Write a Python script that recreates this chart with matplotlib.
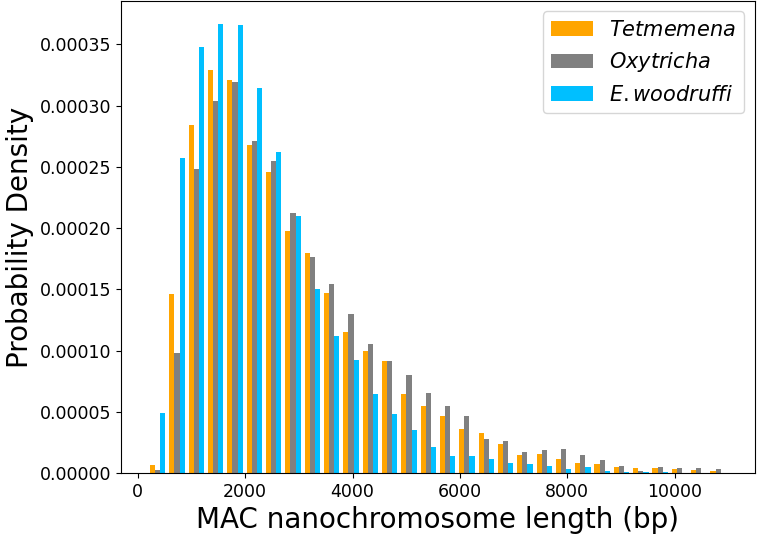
"""
MAC nanochromosome length distributions
"""

import numpy as np
import matplotlib
matplotlib.use("Agg")
import matplotlib.pyplot as plt

# bins: 30 equal bins
bin_lo = 190
bin_hi = 10990
n_bins = 30

# probability density per bin
tetmemena = np.array([
    0.65, 14.6, 28.4, 32.9, 32.1, 26.8, 24.6, 19.8, 18.0, 14.7,
    11.5, 9.96, 9.14, 6.47, 5.47, 4.67, 3.57, 3.24, 2.37, 1.49,
    1.55, 1.17, 0.82, 0.76, 0.46, 0.41, 0.41, 0.30, 0.22, 0.16,
]) * 1e-5
oxytricha = np.array([
    0.25, 9.8, 24.8, 30.4, 31.9, 27.1, 25.5, 21.2, 17.6, 15.4,
    12.95, 10.5, 9.11, 8.0, 6.5, 5.44, 4.65, 2.75, 2.59, 1.71,
    1.88, 1.93, 1.44, 1.06, 0.57, 0.19, 0.49, 0.41, 0.41, 0.30,
]) * 1e-5
woodruffi = np.array([
    4.87, 25.7, 34.8, 36.7, 36.55, 31.4, 26.25, 21.0, 15.0, 11.2,
    9.22, 6.42, 4.79, 3.51, 2.15, 1.39, 1.39, 1.12, 0.79, 0.73,
    0.57, 0.35, 0.52, 0.16, 0.10, 0.08, 0.05, 0.03, 0.03, 0.02,
]) * 1e-5

labels = ['$Tetmemena$', '$Oxytricha$', '$E. woodruffi$']
colors = ['orange', 'grey', 'deepskyblue']


def main():
    edges = np.linspace(bin_lo, bin_hi, n_bins + 1)
    centers = (edges[:-1] + edges[1:]) / 2

    fig = plt.figure(figsize=(7.57, 5.40), dpi=100)
    ax = fig.add_subplot(111)
    fig.subplots_adjust(left=0.160, right=0.997, top=0.998, bottom=0.124)

    ax.hist([centers] * 3, bins=edges,
            weights=[tetmemena, oxytricha, woodruffi],
            color=colors, label=labels)

    ax.set_xlabel('MAC nanochromosome length (bp)', fontsize=20)
    ax.set_ylabel('Probability Density', fontsize=20)
    ax.tick_params(labelsize=12.5)
    ax.yaxis.set_major_formatter(matplotlib.ticker.FormatStrFormatter('%.5f'))
    ax.legend(loc='upper right', fontsize=15)

    fig.savefig('out.png', dpi=100)


if __name__ == '__main__':
    main()
